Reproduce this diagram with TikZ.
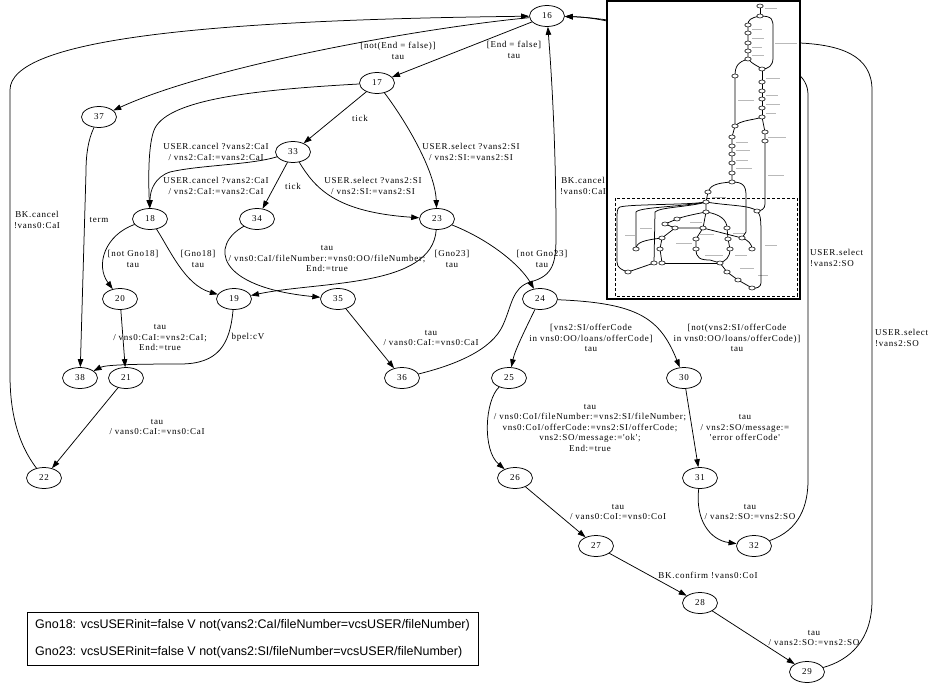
\documentclass[tikz,border=0pt]{standalone}
\usepackage{fontspec}
\usetikzlibrary{shapes.geometric,arrows.meta}
\newfontfamily\lblfont[LetterSpace=8]{Liberation Serif}
\newfontfamily\legfont{Liberation Sans}
\newcommand\lblsz{\lblfont\fontsize{9}{10.5}\selectfont}
\newcommand\legsz{\legfont\fontsize{12.5}{14}\selectfont}
\begin{document}
\begin{tikzpicture}[x=1pt,y=-1pt,
  st/.style={ellipse,draw,line width=0.75pt,minimum width=35pt,minimum height=21pt,inner sep=0pt,font=\lblsz},
  ed/.style={line width=0.75pt,-{Triangle[length=8pt,width=5.5pt]}},
  lab/.style={font=\lblsz,align=center,inner sep=0pt},
  labl/.style={font=\lblsz,align=left,inner sep=0pt,anchor=west},
  mini/.style={line width=0.75pt},
  minilab/.style={gray!55,line width=0.35pt}]
\useasboundingbox (0,0) rectangle (928,688);

% nodes
\node[st] (n16) at (547,16) {16};
\node[st] (n17) at (377,83) {17};
\node[st] (n37) at (99,117) {37};
\node[st] (n33) at (293,152) {33};
\node[st] (n18) at (150,219) {18};
\node[st] (n34) at (257,219) {34};
\node[st] (n23) at (437,219) {23};
\node[st] (n20) at (120,299) {20};
\node[st] (n19) at (234,299) {19};
\node[st] (n35) at (338,299) {35};
\node[st] (n24) at (540,299) {24};
\node[st] (n38) at (80,378) {38};
\node[st] (n21) at (126,378) {21};
\node[st] (n36) at (402,378) {36};
\node[st] (n25) at (509,378) {25};
\node[st] (n30) at (684,378) {30};
\node[st] (n22) at (44,478) {22};
\node[st] (n26) at (515,478) {26};
\node[st] (n31) at (700,478) {31};
\node[st] (n27) at (596,546) {27};
\node[st] (n32) at (754,546) {32};
\node[st] (n28) at (700,603) {28};
\node[st] (n29) at (807,672) {29};

% edges
\draw[ed] (n16) -- (n17);
\draw[ed] (n16) .. controls (420,28) and (210,66) .. (n37);
\draw[ed] (n22) .. controls (15,440) and (10,405) .. (10,375) -- (10,90) .. controls (10,40) and (200,20) .. (n16);
\draw[ed] (n17) -- (n33);
\draw[ed] (n17) .. controls (250,90) and (170,100) .. (155,128) .. controls (149,140) and (148,170) .. (n18);
\draw[ed] (n33) .. controls (250,165) and (200,165) .. (170,172) .. controls (155,177) and (150,190) .. (n18);
\draw[ed] (n33) -- (n34);
\draw[ed] (n33) .. controls (315,188) and (335,212) .. (n23);
\draw[ed] (n17) .. controls (405,120) and (435,170) .. (n23);
\draw[ed] (n37) .. controls (88,140) and (86,155) .. (86,172) -- (n38);
\draw[ed] (n18) .. controls (105,235) and (95,265) .. (n20);
\draw[ed] (n18) .. controls (170,250) and (185,285) .. (n19);
\draw[ed] (n34) .. controls (210,245) and (215,287) .. (n35);
\draw[ed] (n23) .. controls (432,288) and (320,281) .. (n19);
\draw[ed] (n23) .. controls (490,240) and (520,265) .. (n24);
\draw[ed] (n36) .. controls (455,365) and (492,350) .. (503,325) .. controls (512,305) and (512,288) .. (530,282) .. controls (554,276) and (556,262) .. (556,235) .. controls (556,150) and (552,80) .. (n16);
\draw[ed] (n35) -- (n36);
\draw[ed] (n19) .. controls (230,345) and (218,364) .. (180,364) .. controls (130,364) and (105,365) .. (n38);
\draw[ed] (n20) -- (n21);
\draw[ed] (n21) -- (n22);
\draw[ed] (n24) .. controls (525,330) and (515,350) .. (n25);
\draw[ed] (n24) .. controls (638,303) and (660,318) .. (n30);
\draw[ed] (n25) .. controls (485,400) and (482,450) .. (n26);
\draw[ed] (n30) -- (n31);
\draw[ed] (n26) -- (n27);
\draw[ed] (n31) .. controls (695,520) and (710,540) .. (n32);
\draw[ed] (n27) -- (n28);
\draw[ed] (n28) -- (n29);
\draw[ed] (n32) .. controls (800,530) and (808,505) .. (808,480) -- (808,95) .. controls (808,75) and (790,65) .. (760,60) .. controls (660,40) and (620,18) .. (n16);
\draw[ed] (n29) .. controls (850,660) and (872,640) .. (872,600) -- (872,90) .. controls (872,55) and (840,45) .. (800,43) .. controls (700,40) and (620,18) .. (n16);

% inset overview
\fill[white] (607,1) rectangle (800,299);
\begin{scope}[minilab]
\foreach \x/\y/\w in {765/8/12,752/29/10,752/38/12,752/47/10,752/55/12,775/43/22,766/78/14,766/95/12,766/104/14,766/113/10,
  738/100/16,736/142/12,736/150/14,736/160/12,736/168/16,768/137/18,768/175/16,712/197/14,625/235/10,640/228/12,
  700/234/14,733/233/12,676/243/16,705/255/18,735/255/12,740/268/14,758/275/10,765/245/12,690/222/12}
  \draw (\x,\y) -- ++(\w,0);
\end{scope}
\begin{scope}[mini]
\draw (760,6) -- (760,16);
\draw (760,16) .. controls (750,18) and (748,20) .. (748,25) -- (748,59);
\draw (760,16) .. controls (773,16) and (773,20) .. (773,28) -- (773,58) .. controls (773,66) and (768,69) .. (762,69);
\draw (748,59) .. controls (752,64) and (758,66) .. (762,69);
\draw (748,59) .. controls (738,62) and (735,66) .. (735,76) -- (735,126);
\draw (762,69) -- (762,117);
\draw (762,117) .. controls (755,120) and (740,120) .. (735,126);
\draw (762,117) -- (765,132) -- (765,204) .. controls (765,209) and (761,211) .. (757,211);
\draw (735,126) -- (732,137) -- (732,182);
\draw (732,182) .. controls (715,183) and (710,186) .. (708,192);
\draw (732,182) .. controls (742,182) and (746,185) .. (746,195) -- (746,232) -- (742,238);
\draw (708,192) -- (706,202) -- (706,212);
\draw (706,202) .. controls (690,205) and (630,204) .. (620,207) .. controls (617,208) and (617,212) .. (617,220) -- (617,262) .. controls (617,268) and (622,270) .. (628,272);
\draw (706,202) .. controls (680,207) and (640,207) .. (636,212) -- (636,249);
\draw (706,202) .. controls (690,207) and (660,207) .. (655,212) -- (654,263);
\draw (706,202) .. controls (730,206) and (750,205) .. (757,211);
\draw (757,211) .. controls (761,215) and (761,220) .. (761,240) -- (761,283) .. controls (761,287) and (756,289) .. (752,288);
\draw (706,212) -- (703,228) -- (696,239) -- (696,249) .. controls (696,258) and (700,260) .. (710,260) -- (720,263);
\draw (706,212) .. controls (690,215) and (682,217) .. (677,219);
\draw (677,219) -- (665,224) -- (675,228) -- (703,228);
\draw (703,228) -- (742,238);
\draw (706,212) .. controls (720,214) and (727,220) .. (727,228) -- (728,239) -- (730,249) .. controls (730,258) and (725,261) .. (720,263);
\draw (675,228) -- (662,238) -- (660,249) -- (662,263);
\draw (662,238) .. controls (645,240) and (636,242) .. (636,249);
\draw (742,238) .. controls (748,240) and (752,244) .. (752,249);
\draw (720,263) -- (727,272) -- (738,280) -- (752,288);
\draw (654,263) -- (628,272);
\draw (662,263) -- (720,263);
\foreach \p in {(760,6),(760,16),(748,25),(748,33),(748,43),(748,51),(748,59),(762,69),(735,76),
  (762,82),(762,91),(762,99),(762,108),(762,117),(735,126),(765,132),(765,141),
  (732,137),(732,146),(732,154),(732,163),(732,173),(732,182),
  (708,192),(706,202),(706,212),(757,211),(677,219),(665,224),(675,228),(703,228),(727,228),
  (662,238),(696,239),(728,239),(742,238),(636,249),(660,249),(696,249),(730,249),(752,249),
  (654,263),(662,263),(720,263),(628,272),(727,272),(738,280),(752,288)}
  \draw[fill=white,line width=0.55pt] \p ellipse (3.2 and 2);
\end{scope}
\draw[line width=1.6pt] (607,1) rectangle (800,299);
\draw[line width=0.6pt,dash pattern=on 3pt off 2pt] (615,198) rectangle (797,296);

% labels
\node[lab] (l1) at (514,50) {[End = false]\\tau};
\node[lab] (l2) at (398,51) {[not(End = false)]\\tau};
\node[lab] (l3) at (360,118) {tick};
\node[lab] (l4) at (216,152) {USER.cancel ?vans2:CaI\\/ vns2:CaI:=vans2:CaI};
\node[lab] (l5) at (216,186) {USER.cancel ?vans2:CaI\\/ vns2:CaI:=vans2:CaI};
\node[lab] (l6) at (293,186) {tick};
\node[lab] (l7) at (373,186) {USER.select ?vans2:SI\\/ vns2:SI:=vans2:SI};
\node[lab] (l8) at (471,152) {USER.select ?vans2:SI\\/ vns2:SI:=vans2:SI};
\node[lab] (l9) at (583,186) {BK.cancel\\!vans0:CaI};
\node[lab] (l10) at (37,220) {BK.cancel\\!vans0:CaI};
\node[lab] (l11) at (99,220) {term};
\node[lab] (l12) at (133,259) {[not Gno18]\\tau};
\node[lab] (l13) at (198,259) {[Gno18]\\tau};
\node[lab] (l14) at (327,259) {tau\\/ vns0:CaI/fileNumber:=vns0:OO/fileNumber;\\End:=true};
\node[lab] (l15) at (452,259) {[Gno23]\\tau};
\node[lab] (l16) at (542,259) {[not Gno23]\\tau};
\node[lab] (l17) at (248,337) {bpel:cV};
\node[lab] (l18) at (160,338) {tau\\/ vns0:CaI:=vns2:CaI;\\End:=true};
\node[lab] (l19) at (431,338) {tau\\/ vans0:CaI:=vns0:CaI};
\node[lab] (l20) at (591,338) {[vns2:SI/offerCode\\in vns0:OO/loans/offerCode]\\tau};
\node[lab] (l21) at (737,338) {[not(vns2:SI/offerCode\\in vns0:OO/loans/offerCode)]\\tau};
\node[lab] (l22) at (157,427) {tau\\/ vans0:CaI:=vns0:CaI};
\node[lab] (l23) at (590,428) {tau\\/ vns0:CoI/fileNumber:=vns2:SI/fileNumber;\\vns0:CoI/offerCode:=vns2:SI/offerCode;\\vns2:SO/message:='ok';\\End:=true};
\node[lab] (l24) at (745,428) {tau\\/ vns2:SO/message:=\\'error offerCode'};
\node[lab] (l25) at (618,512) {tau\\/ vans0:CoI:=vns0:CoI};
\node[lab] (l26) at (750,512) {tau\\/ vans2:SO:=vns2:SO};
\node[lab] (l27) at (708,575) {BK.confirm !vans0:CoI};
\node[lab] (l28) at (814,638) {tau\\/ vans2:SO:=vns2:SO};
\node[labl] (l29) at (810,258) {USER.select\\!vans2:SO};
\node[labl] (l30) at (875,338) {USER.select\\!vans2:SO};

% legend
\node[draw,line width=0.8pt,minimum width=451pt,minimum height=53pt,inner sep=0pt] (legend) at (252.5,638.5) {};
\node[anchor=west,font=\legsz,inner sep=0pt] (g18) at (35,625) {Gno18: vcsUSERinit=false V not(vans2:CaI/fileNumber=vcsUSER/fileNumber)};
\node[anchor=west,font=\legsz,inner sep=0pt] (g23) at (35,652) {Gno23: vcsUSERinit=false V not(vans2:SI/fileNumber=vcsUSER/fileNumber)};
\end{tikzpicture}
\end{document}
